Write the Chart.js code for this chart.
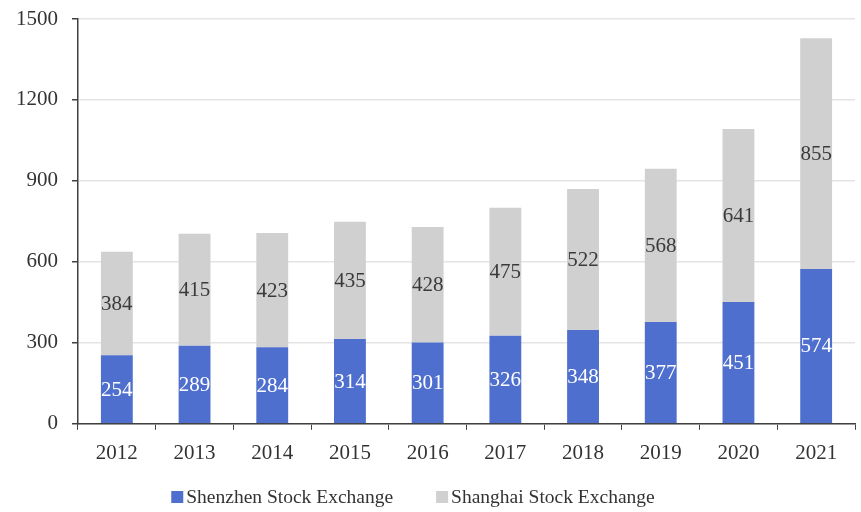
<!DOCTYPE html>
<html>
<head>
<meta charset="utf-8">
<script src="https://cdn.jsdelivr.net/npm/chart.js@4/dist/chart.umd.min.js"></script>
<style>
html,body{margin:0;padding:0;background:#fff;}
#wrap{width:861px;height:512px;}
</style>
</head>
<body>
<div id="wrap"><canvas id="c" width="861" height="512"></canvas></div>
<script>
const years = ['2012','2013','2014','2015','2016','2017','2018','2019','2020','2021'];
const shenzhen = [254, 289, 284, 314, 301, 326, 348, 377, 451, 574];
const shanghai = [384, 415, 423, 435, 428, 475, 522, 568, 641, 855];
const yTicks = [0, 300, 600, 900, 1200, 1500];

const FONT = "'Liberation Serif', 'Times New Roman', serif";

const labelPlugin = {
  id: 'segLabels',
  afterDatasetsDraw(chart) {
    const ctx = chart.ctx;
    ctx.save();
    ctx.font = '21px ' + FONT;
    ctx.textAlign = 'center';
    ctx.textBaseline = 'middle';
    chart.data.datasets.forEach((ds, di) => {
      const meta = chart.getDatasetMeta(di);
      meta.data.forEach((bar, i) => {
        const p = bar.getProps(['x', 'y', 'base'], true);
        ctx.fillStyle = di === 0 ? '#ffffff' : '#3a3a3a';
        ctx.fillText(String(ds.data[i]), p.x, (p.y + p.base) / 2 + 1);
      });
    });
    ctx.restore();
  }
};

const legendPlugin = {
  id: 'customLegend',
  afterDraw(chart) {
    const ctx = chart.ctx;
    ctx.save();
    ctx.font = '19.5px ' + FONT;
    ctx.textBaseline = 'middle';
    ctx.textAlign = 'left';
    const box = 12, gapText = 3, gapItem = 43;
    const items = chart.data.datasets.map(ds => ({ text: ds.label, color: ds.backgroundColor, w: ctx.measureText(ds.label).width }));
    let total = 0;
    items.forEach((it, i) => { total += box + gapText + it.w + (i < items.length - 1 ? gapItem : 0); });
    let x = 413 - total / 2;
    const y = chart.height - 15;
    items.forEach(it => {
      ctx.fillStyle = it.color;
      ctx.fillRect(x, y - box / 2, box, box);
      x += box + gapText;
      ctx.fillStyle = '#333';
      ctx.fillText(it.text, x, y + 1);
      x += it.w + gapItem;
    });
    ctx.restore();
  }
};

new Chart(document.getElementById('c'), {
  type: 'bar',
  data: {
    labels: years,
    datasets: [
      { label: 'Shenzhen Stock Exchange', data: shenzhen, backgroundColor: '#4f6fcf', barPercentage: 0.41, categoryPercentage: 1.0 },
      { label: 'Shanghai Stock Exchange', data: shanghai, backgroundColor: '#d0d0d0', barPercentage: 0.41, categoryPercentage: 1.0 }
    ]
  },
  options: {
    responsive: false,
    animation: false,
    devicePixelRatio: 1,
    layout: { padding: { left: 2, right: 6, top: 19, bottom: 35 } },
    plugins: {
      legend: { display: false },
      tooltip: { enabled: false }
    },
    scales: {
      x: {
        stacked: true,
        grid: { drawOnChartArea: false, drawTicks: true, tickLength: 6, tickColor: '#404040', offset: true },
        border: { color: '#404040', width: 1.5 },
        ticks: { font: { family: FONT, size: 21 }, color: '#333', padding: 11 }
      },
      y: {
        stacked: true,
        min: 0,
        max: 1500,
        afterBuildTicks(axis) { axis.ticks = yTicks.map(v => ({ value: v })); },
        grid: { color: '#e4e4e4', lineWidth: 1.5, drawTicks: true, tickLength: 6, tickColor: '#404040' },
        border: { color: '#404040', width: 1.5 },
        ticks: { font: { family: FONT, size: 21, lineHeight: 0.2 }, color: '#333', padding: 14, callback: v => String(v) }
      }
    }
  },
  plugins: [labelPlugin, legendPlugin]
});
</script>
</body>
</html>
